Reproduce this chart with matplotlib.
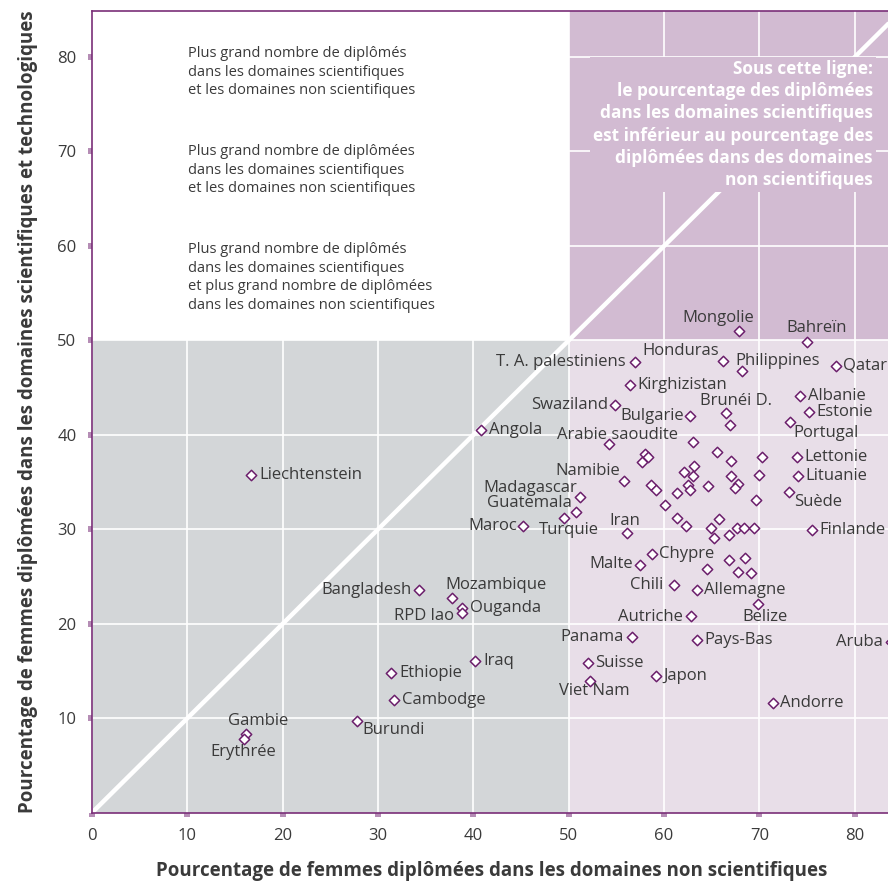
import matplotlib
matplotlib.use("Agg")
import matplotlib.pyplot as plt
from matplotlib.patches import Rectangle

plt.rcParams['font.family'] = ['Open Sans', 'DejaVu Sans']

# données
pays = ["Mongolie", "Bahreïn", "T. A. palestiniens", "Honduras", "Philippines", "Qatar",
        "Kirghizistan", "Swaziland", "Bulgarie", "Brunéi D.", "Albanie", "Estonie",
        "Portugal", "Arabie saoudite", "Lettonie", "Namibie", "Lituanie", "Suède",
        "Madagascar", "Guatemala", "Turquie", "Maroc", "Iran", "Finlande", "Angola",
        "Liechtenstein", "Bangladesh", "Mozambique", "Ouganda", "RPD lao", "Chypre",
        "Malte", "Chili", "Allemagne", "Belize", "Autriche", "Panama", "Pays-Bas",
        "Aruba", "Suisse", "Viet Nam", "Japon", "Andorre", "Iraq", "Ethiopie",
        "Cambodge", "Burundi", "Gambie", "Erythrée"]
x_pays = [67.9, 75.0, 56.9, 66.2, 68.2, 78.0,
          56.4, 54.9, 62.7, 66.5, 74.3, 75.2,
          73.2, 54.2, 73.9, 55.8, 74.0, 73.1,
          51.2, 50.8, 49.5, 45.2, 56.1, 75.5, 40.8,
          16.7, 34.3, 37.8, 38.8, 38.8, 58.7,
          57.5, 61.0, 63.4, 69.8, 62.8, 56.6, 63.4,
          83.8, 52.0, 52.2, 59.1, 71.4, 40.2, 31.4,
          31.7, 27.8, 16.1, 15.9]
y_pays = [51.0, 49.8, 47.7, 47.8, 46.8, 47.3,
          45.3, 43.2, 42.0, 42.3, 44.1, 42.4,
          41.4, 39.0, 37.7, 35.1, 35.6, 34.0,
          33.4, 31.8, 31.2, 30.3, 29.6, 29.9, 40.5,
          35.8, 23.6, 22.7, 21.7, 21.1, 27.4,
          26.2, 24.1, 23.6, 22.1, 20.8, 18.6, 18.3,
          18.1, 15.9, 13.9, 14.5, 11.6, 16.1, 14.8,
          11.9, 9.7, 8.3, 7.8]

# points sans étiquette
x_autres = [66.9, 63.0, 65.5, 67.0, 70.3, 58.0, 58.3, 57.7, 62.1, 63.1, 63.0,
            58.6, 59.1, 61.4, 62.5, 62.7, 64.6, 67.0, 67.7, 67.4, 69.9, 69.6,
            60.1, 61.4, 62.3, 65.8, 64.9, 65.2, 66.8, 67.6, 68.4, 69.4,
            64.5, 66.8, 68.5, 67.7, 69.1]
y_autres = [41.0, 39.2, 38.2, 37.2, 37.7, 37.95, 37.7, 37.1, 36.1, 36.7, 35.6,
            34.7, 34.2, 33.8, 34.7, 34.2, 34.6, 35.6, 34.8, 34.4, 35.7, 33.1,
            32.6, 31.2, 30.3, 31.1, 30.1, 29.1, 29.4, 30.1, 30.1, 30.1,
            25.8, 26.7, 27.0, 25.5, 25.4]

ticks = [0, 10, 20, 30, 40, 50, 60, 70, 80]

# placement des étiquettes (décalage en points, alignement)
place = {
    "Mongolie": (-15, 9.6, 'center'), "Bahreïn": (6.5, 10.4, 'center'),
    "T. A. palestiniens": (-6.5, 0, 'right'), "Honduras": (-3, 7, 'right'),
    "Philippines": (-5, 7, 'left'), "Swaziland": (-5.3, 0, 'right'),
    "Bulgarie": (-4.5, 0, 'right'), "Brunéi D.": (7.4, 8.4, 'center'),
    "Portugal": (2.7, -8.4, 'left'), "Arabie saoudite": (6.3, 6.7, 'center'),
    "Namibie": (-3, 7, 'right'), "Suède": (3.4, -7.2, 'left'),
    "Madagascar": (-2, 6.7, 'right'), "Guatemala": (-3.5, 7, 'right'),
    "Turquie": (3.5, -9, 'center'), "Maroc": (-4.3, 0, 'right'),
    "Iran": (-1.4, 9, 'center'), "Bangladesh": (-5.5, 0, 'right'),
    "Mozambique": (-5, 9.5, 'left'), "RPD lao": (-5.5, -2.2, 'right'),
    "Malte": (-5, 0.7, 'right'), "Chili": (-7.5, 0, 'right'),
    "Belize": (5.3, -9.6, 'center'), "Autriche": (-5.5, -0.7, 'right'),
    "Panama": (-5.8, 0, 'right'), "Aruba": (-6, 0, 'right'),
    "Viet Nam": (3, -7.2, 'center'), "Burundi": (3.6, -6.5, 'left'),
    "Gambie": (9, 9.5, 'center'), "Erythrée": (0, -9.5, 'center'),
}

violet = '#7a2f78'
texte = '#3a3a3a'
rose_fonce = '#d2bbd2'

fig = plt.figure(figsize=(8.88, 8.83), dpi=100)
ax = fig.add_axes([92 / 888, 70.3 / 883, 800 / 888, 802 / 883])
ax.set_xlim(0, 83.9)
ax.set_ylim(0, 84.9)

# zones de fond
ax.add_patch(Rectangle((0, 0), 50, 50, facecolor='#d3d6d8', edgecolor='none', zorder=0))
ax.add_patch(Rectangle((50, 0), 40, 50, facecolor='#e8dee8', edgecolor='none', zorder=0))
ax.add_patch(Rectangle((50, 50), 40, 40, facecolor=rose_fonce, edgecolor='none', zorder=0))

ax.set_axisbelow(True)
ax.grid(True, color='white', linewidth=1.2)
ax.plot([0, 90], [0, 90], color='white', linewidth=3.2, zorder=1, solid_capstyle='butt')

ax.scatter(x_autres, y_autres, marker='D', s=28, facecolor='white', edgecolor='#6c1f6c',
           linewidth=1.1, zorder=3)
ax.scatter(x_pays, y_pays, marker='D', s=28, facecolor='white', edgecolor='#6c1f6c',
           linewidth=1.1, zorder=3)

for nom, xv, yv in zip(pays, x_pays, y_pays):
    dx, dy, ha = place.get(nom, (5.5, 0, 'left'))
    ax.annotate(nom, (xv, yv), xytext=(dx, dy), textcoords='offset points',
                ha=ha, va='center', fontsize=12, color=texte, zorder=4)

# textes explicatifs
notes = ["Plus grand nombre de diplômés\ndans les domaines scientifiques\n"
         "et les domaines non scientifiques",
         "Plus grand nombre de diplômées\ndans les domaines scientifiques\n"
         "et les domaines non scientifiques",
         "Plus grand nombre de diplômés\ndans les domaines scientifiques\n"
         "et plus grand nombre de diplômées\ndans les domaines non scientifiques"]
for note, yn in zip(notes, [78.4, 68.0, 56.66]):
    ax.text(10.1, yn, note, ha='left', va='center', fontsize=10.5, color=texte,
            linespacing=1.33)

ax.text(81.9, 72.85, "Sous cette ligne:\nle pourcentage des diplômées\n"
        "dans les domaines scientifiques\nest inférieur au pourcentage des\n"
        "diplômées dans des domaines\nnon scientifiques", ha='right', va='center',
        multialignment='right', fontsize=12.4, fontweight='bold', color='white',
        linespacing=1.31, zorder=5,
        bbox=dict(boxstyle='square,pad=0.15', facecolor=rose_fonce, edgecolor='none'))

ax.set_xticks(ticks)
ax.set_yticks(ticks[1:])
ax.tick_params(axis='both', direction='out', length=3.2, width=4.3, color='#b58db5',
               labelsize=12, labelcolor=texte, pad=8)

for s in ['left', 'bottom', 'top']:
    ax.spines[s].set_color(violet)
    ax.spines[s].set_linewidth(1.2)
ax.spines['right'].set_visible(False)

ax.set_xlabel("Pourcentage de femmes diplômées dans les domaines non scientifiques",
              fontsize=13.5, fontweight='bold', color=texte, labelpad=12)
ax.set_ylabel("Pourcentage de femmes diplômées dans les domaines scientifiques et technologiques",
              fontsize=13.5, fontweight='bold', color=texte, labelpad=14)

fig.savefig('out.png', dpi=100)
